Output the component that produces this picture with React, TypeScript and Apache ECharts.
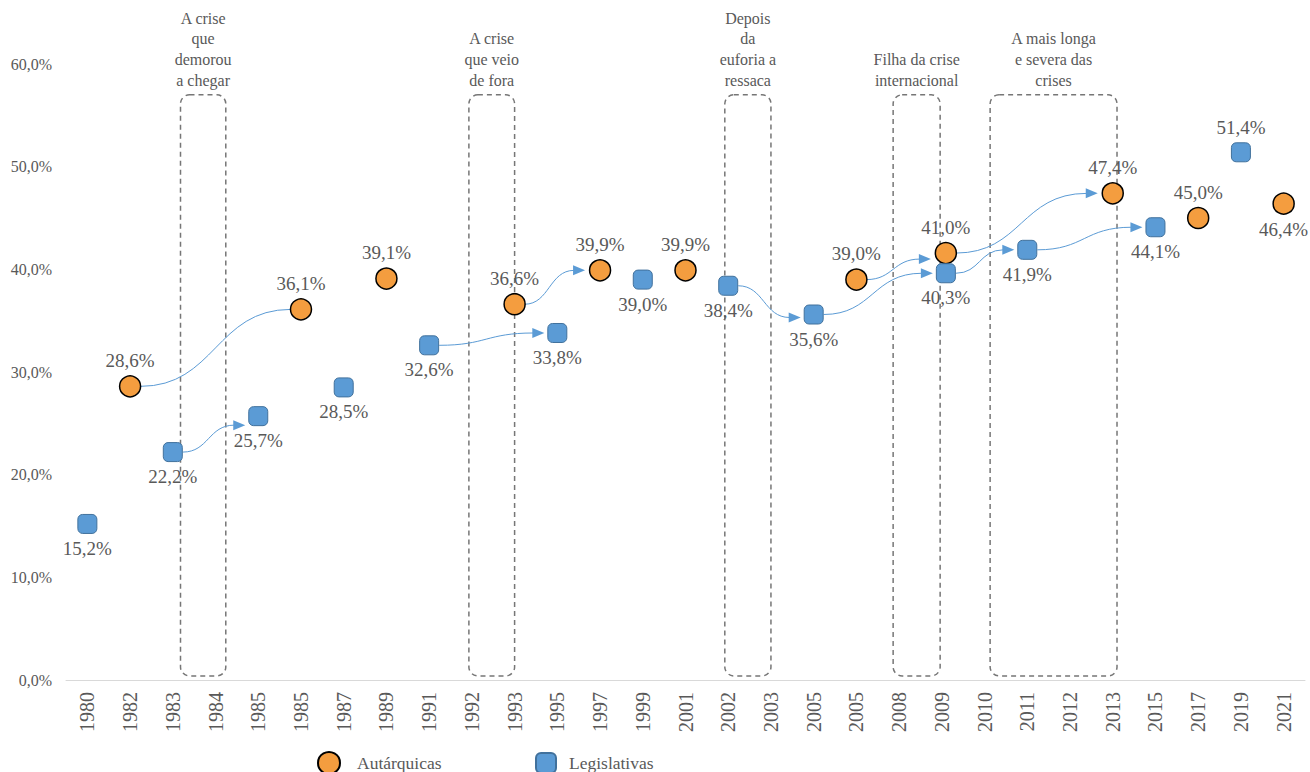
import React, { useEffect, useRef } from "react";
import * as echarts from "echarts";

const categories = [
  "1980", "1982", "1983", "1984", "1985", "1985", "1987", "1989", "1991", "1992",
  "1993", "1995", "1997", "1999", "2001", "2002", "2003", "2005", "2005", "2008",
  "2009", "2010", "2011", "2012", "2013", "2015", "2017", "2019", "2021",
];

const autarquicas: (number | null)[] = [
  null, 28.6, null, null, null, 36.1, null, 39.1, null, null,
  36.6, null, 39.9, null, 39.9, null, null, null, 39.0, null,
  41.0, null, null, null, 47.4, null, 45.0, null, 46.4,
];

const legislativas: (number | null)[] = [
  15.2, null, 22.2, null, 25.7, null, 28.5, null, 32.6, null,
  null, 33.8, null, 39.0, null, 38.4, null, 35.6, null, null,
  40.3, null, 41.9, null, null, 44.1, null, 51.4, null,
];

const yTicks = [0, 10, 20, 30, 40, 50, 60];

// crisis periods: category span (fractional band positions) and caption
const crises = [
  { from: 2.18, to: 3.24, text: "A crise\nque\ndemorou\na chegar" },
  { from: 8.93, to: 10.0, text: "A crise\nque veio\nde fora" },
  { from: 14.92, to: 16.0, text: "Depois\nda\neuforia a\nressaca" },
  { from: 18.86, to: 19.96, text: "Filha da crise\ninternacional" },
  { from: 21.13, to: 24.1, text: "A mais longa\ne severa das\ncrises" },
];

// arrows between elections of the same series
const arrows = [
  { s: "aut", from: 1, to: 5, head: false, dy: 0 },
  { s: "leg", from: 2, to: 4, head: true, dy: 9 },
  { s: "leg", from: 8, to: 11, head: true, dy: 0 },
  { s: "aut", from: 10, to: 12, head: true, dy: 0 },
  { s: "leg", from: 15, to: 17, head: true, dy: 3 },
  { s: "aut", from: 18, to: 20, head: true, dy: 6 },
  { s: "leg", from: 17, to: 20, head: true, dy: 0 },
  { s: "aut", from: 20, to: 24, head: true, dy: 0 },
  { s: "leg", from: 20, to: 22, head: true, dy: 0 },
  { s: "leg", from: 22, to: 25, head: true, dy: 0 },
];

const FONT = "Liberation Serif";
const TXT = "#595959";
const ORANGE = "#F49D3F";
const BLUE = "#5B9BD5";
const BLUE_EDGE = "#41719C";

const fmt = (v: number) => v.toFixed(1).replace(".", ",") + "%";

const offsets: Record<string, Record<number, number[]>> = {
  aut: { 20: [4, -6] },
  leg: { 20: [4, 7] },
};

function buildData(arr: (number | null)[], key: string, flipIdx: number[], flipPos: string) {
  const out: any[] = [];
  arr.forEach((v, i) => {
    if (v == null) return;
    const item: any = { value: [i, v] };
    if (flipIdx.includes(i)) item.label = { position: flipPos };
    if (offsets[key][i]) item.symbolOffset = offsets[key][i];
    out.push(item);
  });
  return out;
}

export default function App() {
  const ref = useRef<HTMLDivElement>(null);
  useEffect(() => {
    if (!ref.current) return;
    const chart = echarts.init(ref.current, null, { renderer: "svg" });
    const labelCommon = {
      show: true,
      fontFamily: FONT,
      fontSize: 19,
      color: TXT,
      distance: 5,
      formatter: (p: any) => fmt(p.value[1]),
    };
    chart.setOption({
      animation: false,
      backgroundColor: "#ffffff",
      textStyle: { fontFamily: FONT },
      grid: { left: 66, right: 5, top: 64, bottom: 92, containLabel: false },
      xAxis: {
        type: "category",
        data: categories,
        boundaryGap: true,
        axisLine: { show: true, lineStyle: { color: "#d9d9d9", width: 1 } },
        axisTick: { show: false },
        axisLabel: {
          interval: 0,
          rotate: 90,
          margin: 12,
          fontFamily: FONT,
          fontSize: 20,
          color: TXT,
        },
        splitLine: { show: false },
      },
      yAxis: {
        type: "value",
        min: yTicks[0],
        max: yTicks[yTicks.length - 1],
        interval: 10,
        axisLine: { show: false },
        axisTick: { show: false },
        splitLine: { show: false },
        axisLabel: {
          margin: 14,
          fontFamily: FONT,
          fontSize: 16,
          color: TXT,
          formatter: (v: number) => fmt(v),
        },
      },
      legend: [
        {
          data: ["Autárquicas"],
          left: 317,
          top: 751,
          padding: 0,
          itemWidth: 22,
          itemHeight: 22,
          textStyle: { fontFamily: FONT, fontSize: 17.5, color: TXT, padding: [0, 0, 0, 12] },
        },
        {
          data: ["Legislativas"],
          left: 535,
          top: 752,
          padding: 0,
          itemWidth: 20,
          itemHeight: 20,
          textStyle: { fontFamily: FONT, fontSize: 17.5, color: TXT, padding: [0, 0, 0, 8] },
        },
      ],
      series: [
        {
          name: "Autárquicas",
          type: "scatter",
          symbol: "circle",
          symbolSize: 21,
          z: 3,
          itemStyle: { color: ORANGE, borderColor: "#000000", borderWidth: 1.5, opacity: 1 },
          label: { ...labelCommon, position: "top" },
          data: buildData(autarquicas, "aut", [28], "bottom"),
        },
        {
          name: "Legislativas",
          type: "scatter",
          symbol: "roundRect",
          symbolSize: 19,
          z: 3,
          itemStyle: { color: BLUE, borderColor: BLUE_EDGE, borderWidth: 1, opacity: 1 },
          label: { ...labelCommon, position: "bottom" },
          data: buildData(legislativas, "leg", [27], "top"),
        },
      ],
    });

    const px = (i: number, v: number) => chart.convertToPixel({ gridIndex: 0 }, [i, v]) as number[];
    const c0 = px(0, 0);
    const c1 = px(1, 0);
    const bw = c1[0] - c0[0];
    const bandX = (f: number) => c0[0] + f * bw;
    const yTop = px(0, 57)[1];
    const yBot = px(0, 0.4)[1];
    const yText = px(0, 57.2)[1] - 2;

    const elements: any[] = [];
    crises.forEach((c) => {
      const x0 = bandX(c.from);
      const x1 = bandX(c.to);
      elements.push({
        type: "rect",
        shape: { x: x0, y: yTop, width: x1 - x0, height: yBot - yTop, r: 9 },
        style: { fill: "none", stroke: "#767676", lineWidth: 1.5, lineDash: [5, 4] },
        z: 1,
      });
      elements.push({
        type: "text",
        style: {
          text: c.text,
          x: (x0 + x1) / 2,
          y: yText,
          align: "center",
          verticalAlign: "bottom",
          fontFamily: FONT,
          fontSize: 16,
          lineHeight: 20.7,
          fill: TXT,
        },
        z: 1,
      });
    });

    const seriesVals: Record<string, (number | null)[]> = { aut: autarquicas, leg: legislativas };
    arrows.forEach((a) => {
      const vals = seriesVals[a.s];
      const oFrom = offsets[a.s][a.from] || [0, 0];
      const oTo = offsets[a.s][a.to] || [0, 0];
      const p0 = px(a.from, vals[a.from] as number);
      const p1 = px(a.to, vals[a.to] as number);
      const sx = p0[0] + oFrom[0] + 10;
      const sy = p0[1] + oFrom[1];
      const gap = a.s === "aut" ? 15 : 13;
      const tipX = p1[0] + oTo[0] - (a.head ? gap : 10);
      const tipY = p1[1] + oTo[1] + a.dy;
      const ex = a.head ? tipX - 11 : tipX;
      const xm = (sx + ex) / 2;
      elements.push({
        type: "bezierCurve",
        shape: { x1: sx, y1: sy, cpx1: xm, cpy1: sy, cpx2: xm, cpy2: tipY, x2: ex, y2: tipY },
        style: { stroke: BLUE, lineWidth: 1, fill: "none" },
        z: 2,
      });
      if (a.head) {
        elements.push({
          type: "polygon",
          shape: { points: [[tipX, tipY], [tipX - 12, tipY - 5], [tipX - 12, tipY + 5]] },
          style: { fill: BLUE },
          z: 2,
        });
      }
    });

    chart.setOption({ graphic: { elements } });

    return () => chart.dispose();
  }, []);

  return (
    <div
      ref={ref}
      style={{ position: "fixed", left: 0, top: 0, width: 1310, height: 772, background: "#fff" }}
    />
  );
}
